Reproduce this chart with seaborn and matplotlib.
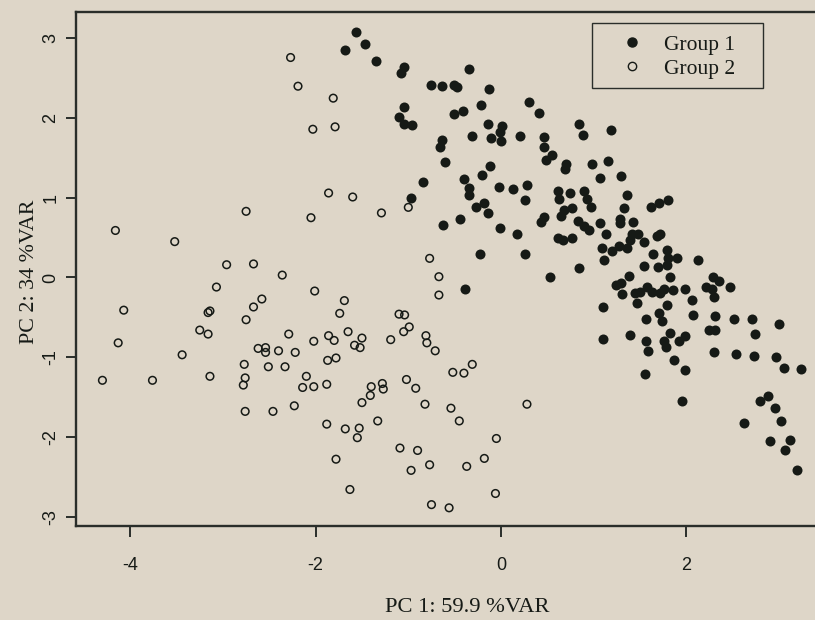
import matplotlib
matplotlib.use("Agg")
import matplotlib.pyplot as plt
from matplotlib.lines import Line2D
from matplotlib.patches import Rectangle
import seaborn as sns
import pandas as pd

# PCA scores, group 1 (filled markers)
pc1_g1 = [-1.56, -1.68, -1.47, -1.35, -1.05, -1.08, -0.76, -0.64, -0.51, -0.47,
          -0.34, -0.13, -0.22, -0.41, -0.51, -1.05, -1.10, -1.05, -0.96, 0.30,
          0.41, -0.14, 0.01, -0.01, 0.00, -0.31, -0.11, 0.21, 0.46, 0.46,
          0.55, 0.49, 0.70, 0.69, -0.64, -0.66, -0.60, -0.12, -0.20, -0.40,
          -0.84, -0.97, -0.35, -0.35, -0.02, 0.13, 0.28, 0.26, -0.18, -0.27,
          -0.14, -0.44, -0.63, -0.01, 0.17, -0.23, 0.26, 0.53, -0.39, 0.43,
          0.46, 0.61, 0.63, 0.74, 0.68, 0.77, 0.65, 0.61, 0.67, 0.77,
          1.07, 1.29, 0.90, 0.93, 1.36, 0.97, 1.33, 1.62, 1.70, 1.80,
          0.83, 0.90, 0.95, 1.07, 1.28, 1.28, 1.42, 1.13, 1.41, 1.48,
          1.39, 1.54, 1.68, 1.72, 1.09, 1.20, 1.27, 1.36, 1.11, 1.64,
          1.79, 1.80, 1.90, 1.79, 1.54, 1.69, 2.12, 0.84, 1.38, 1.82,
          1.24, 1.29, 1.31, 1.45, 1.50, 1.58, 1.63, 1.47, 1.72, 1.76,
          1.86, 1.98, 2.06, 2.29, 2.35, 2.21, 2.28, 2.30, 2.47, 1.10,
          1.79, 1.70, 1.56, 1.74, 2.07, 2.31, 2.51, 2.71, 3.00, 2.24,
          2.31, 2.74, 1.10, 1.39, 1.82, 1.56, 1.76, 1.78, 1.92, 1.99,
          1.59, 1.87, 1.98, 1.55, 1.95, 2.30, 2.54, 2.73, 2.97, 3.05,
          3.24, 2.79, 2.88, 2.96, 2.62, 3.02, 2.90, 3.12, 3.06, 3.19,
          0.84, 0.88, 1.19, 0.98, 1.15]
pc2_g1 = [3.08, 2.85, 2.93, 2.72, 2.64, 2.57, 2.42, 2.40, 2.42, 2.39,
          2.62, 2.37, 2.16, 2.09, 2.05, 2.14, 2.01, 1.93, 1.91, 2.20,
          2.07, 1.93, 1.90, 1.82, 1.71, 1.78, 1.75, 1.77, 1.76, 1.64,
          1.54, 1.47, 1.43, 1.36, 1.72, 1.64, 1.45, 1.40, 1.28, 1.24,
          1.20, 1.00, 1.12, 1.03, 1.14, 1.11, 1.16, 0.97, 0.94, 0.89,
          0.81, 0.74, 0.66, 0.62, 0.55, 0.30, 0.30, 0.01, -0.14, 0.70,
          0.76, 1.09, 0.99, 1.06, 0.85, 0.87, 0.77, 0.49, 0.47, 0.49,
          1.25, 1.27, 1.09, 0.99, 1.04, 0.88, 0.87, 0.88, 0.94, 0.97,
          0.71, 0.64, 0.59, 0.68, 0.74, 0.68, 0.70, 0.55, 0.55, 0.54,
          0.47, 0.44, 0.52, 0.55, 0.37, 0.33, 0.39, 0.37, 0.22, 0.29,
          0.35, 0.25, 0.25, 0.16, 0.15, 0.13, 0.22, 0.12, 0.02, 0.00,
          -0.09, -0.07, -0.21, -0.20, -0.18, -0.12, -0.18, -0.32, -0.19, -0.14,
          -0.16, -0.14, -0.28, 0.00, -0.04, -0.12, -0.15, -0.24, -0.12, -0.37,
          -0.35, -0.44, -0.52, -0.55, -0.47, -0.48, -0.52, -0.52, -0.58, -0.66,
          -0.66, -0.71, -0.77, -0.72, -0.70, -0.80, -0.80, -0.87, -0.80, -0.73,
          -0.92, -1.04, -1.16, -1.21, -1.55, -0.94, -0.96, -0.98, -1.00, -1.13,
          -1.15, -1.55, -1.49, -1.64, -1.83, -1.80, -2.05, -2.04, -2.17, -2.42,
          1.93, 1.79, 1.85, 1.43, 1.46]

# PCA scores, group 2 (open markers)
pc1_g2 = [-2.27, -2.19, -2.03, -1.81, -1.79, -1.86, -1.60, -1.29, -1.00, -0.77,
          -0.67, -0.67, -1.69, -1.74, -1.10, -1.04, -0.99, -1.05, -1.65, -1.86,
          -1.80, -1.50, -1.58, -1.52, -1.19, -0.81, -0.80, -0.71, -4.16, -3.52,
          -2.75, -2.05, -2.96, -2.67, -2.36, -3.07, -2.01, -2.58, -2.67, -2.75,
          -4.07, -3.16, -3.14, -3.25, -3.16, -2.29, -2.02, -4.13, -3.44, -2.62,
          -2.54, -2.54, -2.40, -2.22, -2.77, -2.51, -2.33, -2.10, -2.14, -2.02,
          -4.30, -3.76, -3.14, -2.76, -2.78, -2.76, -2.46, -2.23, -1.87, -1.78,
          -1.88, -1.40, -1.28, -1.27, -1.41, -1.50, -1.02, -0.92, -0.82, -0.52,
          -0.40, -0.31, -0.54, -0.45, 0.28, -1.88, -1.68, -1.53, -1.55, -1.33,
          -1.09, -0.90, -0.97, -0.77, -0.37, -0.18, -0.05, -1.78, -1.63, -0.06,
          -0.75, -0.56]
pc2_g2 = [2.76, 2.40, 1.86, 2.25, 1.89, 1.06, 1.01, 0.81, 0.88, 0.24,
          0.01, -0.22, -0.29, -0.45, -0.46, -0.47, -0.62, -0.68, -0.68, -0.73,
          -0.79, -0.76, -0.85, -0.88, -0.78, -0.73, -0.82, -0.92, 0.59, 0.45,
          0.83, 0.75, 0.16, 0.17, 0.03, -0.12, -0.17, -0.27, -0.37, -0.53,
          -0.41, -0.44, -0.42, -0.66, -0.71, -0.71, -0.80, -0.82, -0.97, -0.89,
          -0.88, -0.94, -0.92, -0.94, -1.09, -1.12, -1.12, -1.24, -1.38, -1.37,
          -1.29, -1.29, -1.24, -1.26, -1.35, -1.68, -1.68, -1.61, -1.04, -1.01,
          -1.34, -1.37, -1.33, -1.40, -1.48, -1.57, -1.28, -1.39, -1.59, -1.19,
          -1.20, -1.09, -1.64, -1.80, -1.59, -1.84, -1.90, -1.89, -2.01, -1.80,
          -2.14, -2.17, -2.42, -2.35, -2.37, -2.27, -2.02, -2.28, -2.66, -2.71,
          -2.85, -2.89]

group_labels = ["Group 1", "Group 2"]
x_ticks = [-4, -2, 0, 2]
y_ticks = [-3, -2, -1, 0, 1, 2, 3]
x_title = "PC 1: 59.9 %VAR"
y_title = "PC 2: 34 %VAR"

bg = "#ded6c8"
ink = "#161a16"
frame_col = "#2a2e2a"

g1 = pd.DataFrame({"pc1": pc1_g1, "pc2": pc2_g1})
g2 = pd.DataFrame({"pc1": pc1_g2, "pc2": pc2_g2})

sns.set_theme(style="ticks")
plt.rcParams["font.family"] = ["Liberation Sans", "DejaVu Sans"]

fig = plt.figure(figsize=(8.15, 6.2), dpi=100, facecolor=bg)
ax = fig.add_axes([76 / 815, 94 / 620, 769 / 815, 514 / 620])
ax.set_facecolor(bg)

sns.scatterplot(data=g1, x="pc1", y="pc2", ax=ax, color=ink, s=52,
                linewidth=0, marker="o", legend=False, zorder=3)
sns.scatterplot(data=g2, x="pc1", y="pc2", ax=ax, s=30, marker="o",
                facecolors="none", edgecolor=ink, linewidth=1.1,
                legend=False, zorder=3)

ax.set_xlim(-4.585, 3.711)
ax.set_ylim(-3.118, 3.331)
ax.set_xticks(x_ticks)
ax.set_yticks(y_ticks)
ax.set_xticklabels([str(v) for v in x_ticks])
ax.set_yticklabels([str(v) for v in y_ticks])
ax.set_xlabel("")
ax.set_ylabel("")

for side in ["left", "bottom", "top", "right"]:
    ax.spines[side].set_visible(True)
    ax.spines[side].set_linewidth(1.7)
    ax.spines[side].set_color(frame_col)

ax.tick_params(axis="x", direction="out", length=8, width=1.4, color=frame_col,
               labelsize=13, pad=14, labelcolor=ink)
ax.tick_params(axis="y", direction="out", length=7, width=1.4, color=frame_col,
               labelsize=13, pad=5, labelcolor=ink, labelrotation=90)
for lab in ax.get_yticklabels():
    lab.set_verticalalignment("center")

serif = ["Liberation Serif", "DejaVu Serif"]
fig.text(467 / 815, 1 - 607 / 620, x_title, ha="center", va="center",
         fontsize=16.2, family=serif, color=ink)
fig.text(30 / 815, 1 - 272 / 620, y_title, ha="center", va="center",
         rotation=90, fontsize=15.8, family=serif, color=ink)

# legend entries (no frame) plus a plain box around them
handles = [
    Line2D([], [], linestyle="none", marker="o", markersize=6.5,
           markerfacecolor=ink, markeredgecolor=ink),
    Line2D([], [], linestyle="none", marker="o", markersize=6,
           markerfacecolor="none", markeredgecolor=ink, markeredgewidth=1.0),
]
fs = 15.5
fs_px = fs * 100 / 72
leg = ax.legend(handles, group_labels, loc="upper left",
                bbox_to_anchor=((632 - fs_px / 2) / 815, 1 - 34.5 / 620),
                bbox_transform=fig.transFigure,
                prop={"family": serif, "size": fs}, frameon=False,
                borderpad=0, labelspacing=0.18,
                handlelength=1.0, handletextpad=(664 - 632 - fs_px / 2) / fs_px,
                borderaxespad=0)
for t in leg.get_texts():
    t.set_color(ink)
fig.patches.append(Rectangle((592 / 815, 1 - 88 / 620), 171 / 815, 65 / 620,
                             transform=fig.transFigure, fill=False,
                             edgecolor=frame_col, linewidth=1.0, zorder=5))

fig.savefig("out.png", dpi=100, facecolor=bg)
